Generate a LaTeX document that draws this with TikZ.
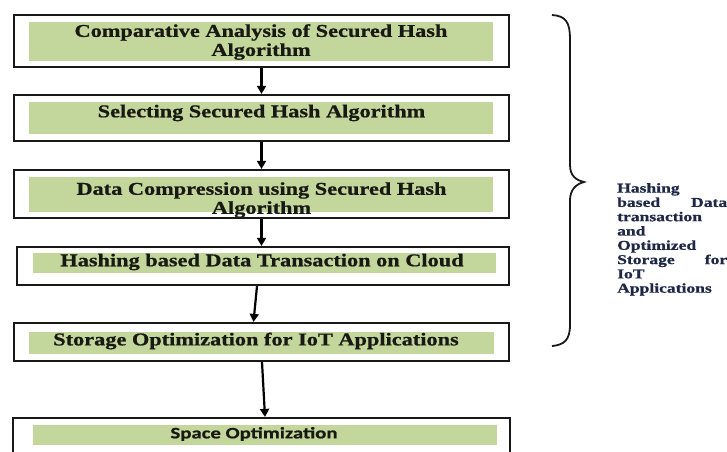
\documentclass[tikz,border=0pt]{standalone}
\usepackage{fontspec}
\usetikzlibrary{arrows.meta}
\newfontfamily\boxfont[FakeStretch=1.24, BoldFeatures={FakeBold=0.8}]{Liberation Serif}
\newfontfamily\sidefont[FakeStretch=1.3, BoldFeatures={FakeBold=0.8}]{Liberation Serif}
\newfontfamily\spacefont[FakeStretch=1.3, BoldFeatures={FakeBold=0.8}]{Carlito}
\definecolor{boxgreen}{RGB}{195,214,155}
\definecolor{boxtext}{RGB}{25,25,20}
\definecolor{sidetext}{RGB}{30,40,70}
\tikzset{
  outerbox/.style={draw=black!90, line width=2.2pt, inner sep=0pt},
  greenbox/.style={fill=boxgreen, inner sep=0pt},
  boxlabel/.style={text=boxtext, font=\boxfont\bfseries\fontsize{18}{19}\selectfont, align=center, inner sep=0pt},
  flow/.style={line width=2.2pt, black, -{Triangle[length=8pt,width=9pt]}},
}
\begin{document}
\begin{tikzpicture}[x=1pt,y=-1pt]
\useasboundingbox (0,0) rectangle (727,451);
\clip (0,0) rectangle (727,451);
% outer boxes
\node[outerbox, minimum width=495, minimum height=52] (o1) at (261.5,41) {};
\node[outerbox, minimum width=495, minimum height=46] (o2) at (261.5,118) {};
\node[outerbox, minimum width=495, minimum height=48] (o3) at (261.5,194) {};
\node[outerbox, minimum width=492, minimum height=38] (o4) at (263,266) {};
\node[outerbox, minimum width=495, minimum height=38] (o5) at (261.5,342) {};
\node[outerbox, minimum width=497, minimum height=60] (o6) at (261.5,448) {};
% green bars
\node[greenbox, minimum width=464, minimum height=39] (g1) at (261,41.5) {};
\node[greenbox, minimum width=464, minimum height=32] (g2) at (261,118) {};
\node[greenbox, minimum width=464, minimum height=35] (g3) at (261,194.5) {};
\node[greenbox, minimum width=463, minimum height=20] (g4) at (264.5,263) {};
\node[greenbox, minimum width=465, minimum height=22] (g5) at (261.5,343) {};
\node[greenbox, minimum width=464, minimum height=20] (g6) at (265,435) {};
% labels
\node[boxlabel] (t1) at (261,42) {Comparative Analysis of Secured Hash\\Algorithm};
\node[boxlabel] (t2) at (261.5,113) {Selecting Secured Hash Algorithm};
\node[boxlabel] (t3) at (261.5,200) {Data Compression using Secured Hash\\Algorithm};
\node[boxlabel] (t4) at (262,262) {Hashing based Data Transaction on Cloud};
\node[boxlabel] (t5) at (256,341) {Storage Optimization for IoT Applications};
\node[boxlabel, font=\spacefont\bfseries\fontsize{16}{18}\selectfont] (t6) at (254,434) {Space Optimization};
% connectors
\draw[flow] (o1.south) -- (o2.north);
\draw[flow] (o2.south) -- (o3.north);
\draw[flow] (o3.south) -- (o4.north -| o3.south);
\draw[flow] ([xshift=-6pt]o4.south) -- ([xshift=-8pt]o5.north);
\draw[flow] ([xshift=0.5pt]o5.south) -- ([xshift=3.5pt]o6.north);
% brace
\draw[line width=1.8pt, black!90]
  (552,15) .. controls (566,16) and (570,22) .. (570,40) -- (570,165)
  .. controls (570,176) and (576,180) .. (584,182)
  .. controls (576,184) and (570,190) .. (570,200) -- (570,325)
  .. controls (570,340) and (564,345) .. (552,346);
\node[anchor=north west, inner sep=0pt, text width=110pt, align=left, text=sidetext,
      font=\sidefont\bfseries\fontsize{13.5}{14.3}\selectfont] (side) at (617,183)
  {Hashing\\based\hfill Data\\transaction\\and\\Optimized\\Storage\hfill for\\IoT\\Applications};
\end{tikzpicture}
\end{document}
